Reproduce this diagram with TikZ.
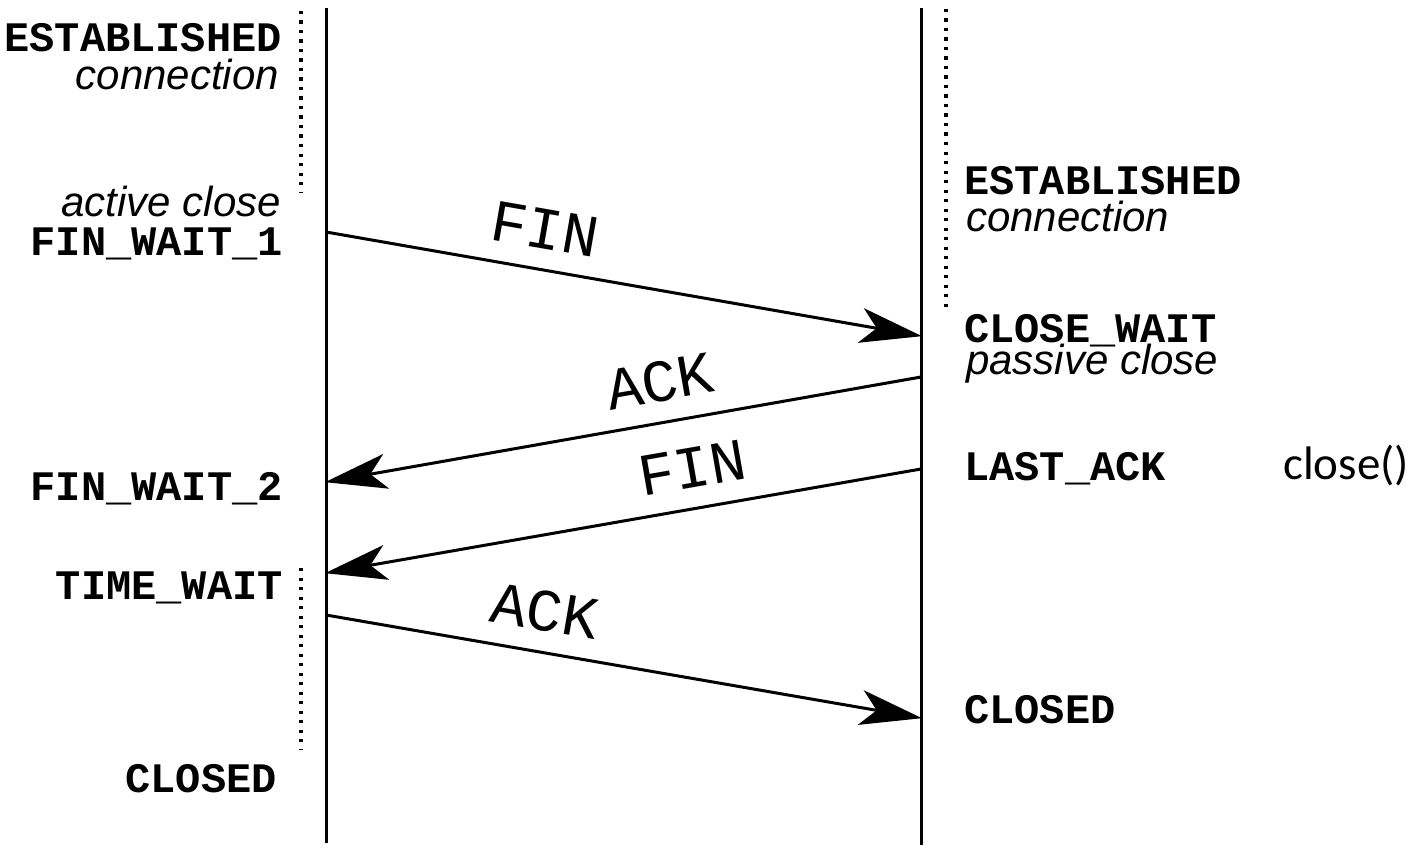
\documentclass[tikz,border=0pt]{standalone}
\usepackage{fontspec}
\setmainfont{Liberation Sans}
\newfontfamily\monofont{Liberation Mono}
\newfontfamily\calfont{Carlito}
\usetikzlibrary{arrows.meta}

\tikzset{
  lifeline/.style={line width=3pt},
  timer/.style={line width=3.2pt, dash pattern=on 3.2pt off 6.3pt},
  msgarrow/.style={line width=3pt, -{Stealth[length=62pt, width=35pt, inset=16pt]}, shorten >=-1pt},
  msglabel/.style={font=\monofont\fontsize{60}{60}\selectfont, inner sep=0pt, sloped, above=19pt},
  statename/.style={font=\monofont\bfseries\fontsize{42}{42}\selectfont, inner sep=0pt},
  remark/.style={font=\itshape\fontsize{42}{42}\selectfont, inner sep=0pt},
  callname/.style={font=\calfont\fontsize{47}{47}\selectfont, inner sep=0pt}
}

\begin{document}
\begin{tikzpicture}[x=1pt, y=-1pt]
\useasboundingbox (0,0) rectangle (1415,848);

% lifelines of the two hosts
\coordinate (Ltop) at (326,8);
\coordinate (Lbot) at (326,843);
\coordinate (Rtop) at (921,8);
\coordinate (Rbot) at (921,845);
\draw[lifeline] (Ltop) -- (Lbot);
\draw[lifeline] (Rtop) -- (Rbot);

% dotted intervals
\coordinate (LdotA) at (301,11);
\coordinate (LdotB) at (301,192);
\coordinate (LdotC) at (301,568);
\coordinate (LdotD) at (301,750);
\coordinate (RdotA) at (946,9);
\coordinate (RdotB) at (946,308);
\draw[timer] (LdotA) -- (LdotB);
\draw[timer] (LdotC) -- (LdotD);
\draw[timer] (RdotA) -- (RdotB);

% message end points
\coordinate (L1) at (326,232);
\coordinate (R1) at (921,336);
\coordinate (R2) at (921,377);
\coordinate (L2) at (326,482);
\coordinate (R3) at (921,469);
\coordinate (L3) at (326,573);
\coordinate (L4) at (326,615);
\coordinate (R4) at (921,718);

\draw[msgarrow] (L1) -- node[msglabel, pos=0.356] (fin1) {FIN} (R1);
\draw[msgarrow] (R2) -- node[msglabel, pos=0.427] (ack1) {ACK} (L2);
\draw[msgarrow] (R3) -- node[msglabel, pos=0.373] (fin2) {FIN} (L3);
\draw[msgarrow] (L4) -- node[msglabel, pos=0.356] (ack2) {ACK} (R4);

% states of the active side
\node[statename, anchor=base east] (lest) at (282,52) {ESTABLISHED};
\node[remark, anchor=base east] (lconn) at (279,90) {connection};
\node[remark, anchor=base east] (lactive) at (281,216) {active close};
\node[statename, anchor=base east] (lfw1) at (283,255) {FIN\_WAIT\_1};
\node[statename, anchor=base east] (lfw2) at (283,500) {FIN\_WAIT\_2};
\node[statename, anchor=base east] (ltw) at (283,599) {TIME\_WAIT};
\node[statename, anchor=base east] (lclosed) at (277,792) {CLOSED};

% states of the passive side
\node[statename, anchor=base west] (rest) at (964,194) {ESTABLISHED};
\node[remark, anchor=base west] (rconn) at (966,231) {connection};
\node[statename, anchor=base west] (rcw) at (964,342) {CLOSE\_WAIT};
\node[remark, anchor=base west] (rpassive) at (966,374) {passive close};
\node[statename, anchor=base west] (rla) at (964,480) {LAST\_ACK};
\node[callname, anchor=base west] (rcall) at (1283,479) {close()};
\node[statename, anchor=base west] (rclosed) at (964,723) {CLOSED};
\end{tikzpicture}
\end{document}
